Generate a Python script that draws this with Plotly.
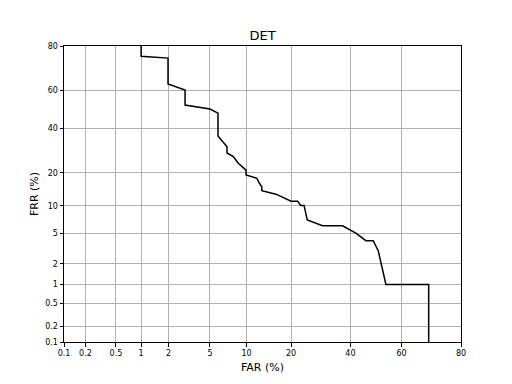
from statistics import NormalDist
import plotly.graph_objects as go

# DET curve data (percent)
far = [1.0, 1.0, 1.97, 1.97, 2.93, 2.93, 5.0, 5.88, 5.88, 7.0, 7.0, 7.87, 8.63, 9.9, 9.9,
       11.9, 12.4, 12.9, 12.9, 16.1, 20.0, 21.9, 22.8, 23.8, 24.8, 29.8, 37.0, 42.1,
       46.0, 48.9, 50.9, 53.9, 69.9, 69.9]
frr = [90.0, 76.0, 75.2, 63.2, 60.1, 52.3, 50.2, 48.0, 36.2, 31.0, 28.1, 26.5, 23.7, 21.0, 19.2,
       18.0, 16.3, 15.2, 14.0, 13.0, 11.1, 11.1, 10.1, 10.1, 7.1, 6.1, 6.1, 5.0,
       4.05, 4.05, 3.0, 1.0, 1.0, 0.05]

tick_vals_pct = [0.1, 0.2, 0.5, 1, 2, 5, 10, 20, 40, 60, 80]
tick_text = ["0.1", "0.2", "0.5", "1", "2", "5", "10", "20", "40", "60", "80"]

nd = NormalDist()
def probit(p):
    return nd.inv_cdf(p / 100.0)

xs = [probit(v) for v in far]
ys = [probit(v) for v in frr]
tv = [probit(v) for v in tick_vals_pct]
rng = [probit(0.1), probit(80)]

fig = go.Figure()
fig.add_trace(go.Scatter(x=xs, y=ys, mode="lines",
                         line=dict(color="black", width=1.5), showlegend=False))

axis_common = dict(
    tickmode="array", tickvals=tv, ticktext=tick_text, range=rng,
    showgrid=True, gridcolor="#b0b0b0", gridwidth=1,
    showline=True, linecolor="black", linewidth=1, mirror=True,
    ticks="outside", ticklen=3.5, tickcolor="black", tickwidth=1,
    tickfont=dict(family="DejaVu Sans", size=8, color="black"),
    zeroline=False,
)

fig.update_layout(
    width=512, height=384,
    margin=dict(l=64, r=51, t=46, b=42),
    paper_bgcolor="white", plot_bgcolor="white",
    title=dict(text="DET", x=262.5/512, xref="container", xanchor="center",
               y=1 - 35/384, yref="container", yanchor="middle",
               font=dict(family="DejaVu Sans", size=13, color="black")),
    xaxis=dict(**axis_common, title=dict(text="FAR (%)", standoff=6,
               font=dict(family="DejaVu Sans", size=11, color="black"))),
    yaxis=dict(**axis_common, title=dict(text="FRR (%)", standoff=4,
               font=dict(family="DejaVu Sans", size=11, color="black"))),
)

fig.write_html("out.html")
